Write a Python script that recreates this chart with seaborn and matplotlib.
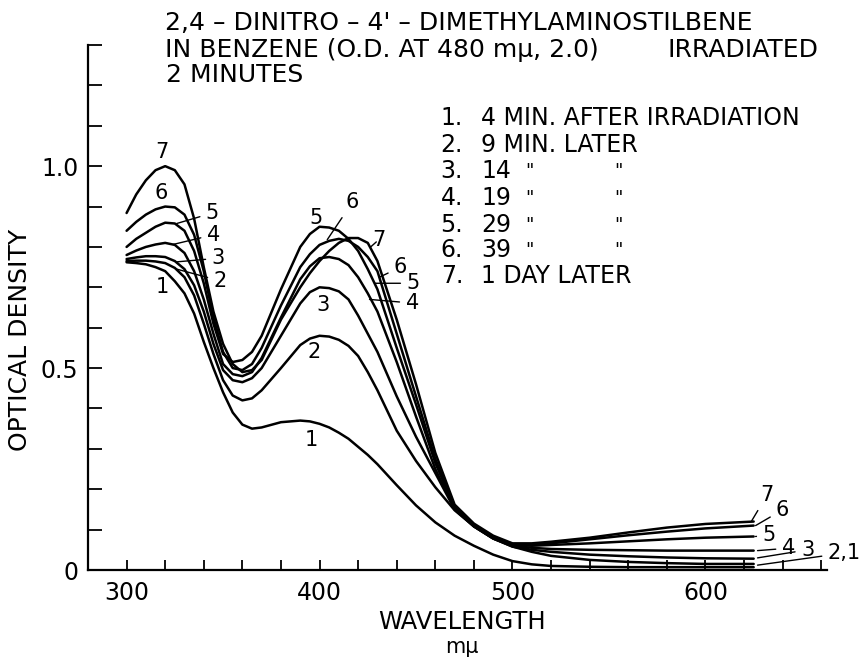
import matplotlib
matplotlib.use("Agg")
import matplotlib.pyplot as plt
import seaborn as sns
import pandas as pd
from matplotlib.ticker import FixedLocator, FixedFormatter

# ---------------- data ----------------
wavelength = [300, 305, 310, 315, 320, 325, 330, 335, 340, 345, 350, 355, 360,
              365, 370, 380, 390, 395, 400, 405, 410, 415, 420, 425, 430, 440,
              450, 460, 470, 480, 490, 500, 510, 520, 540, 560, 580, 600, 625]

curve_1 = [0.762, 0.760, 0.757, 0.750, 0.740, 0.715, 0.685, 0.635, 0.565, 0.500,
           0.440, 0.390, 0.360, 0.350, 0.353, 0.366, 0.370, 0.368, 0.362, 0.353,
           0.340, 0.325, 0.305, 0.285, 0.262, 0.210, 0.160, 0.118, 0.085, 0.060,
           0.038, 0.022, 0.014, 0.010, 0.008, 0.007, 0.007, 0.007, 0.007]
curve_2 = [0.765, 0.766, 0.766, 0.764, 0.760, 0.748, 0.725, 0.680, 0.610, 0.535,
           0.470, 0.432, 0.420, 0.425, 0.445, 0.500, 0.557, 0.573, 0.580, 0.578,
           0.570, 0.555, 0.530, 0.490, 0.445, 0.345, 0.270, 0.205, 0.148, 0.108,
           0.078, 0.058, 0.045, 0.035, 0.025, 0.020, 0.017, 0.015, 0.015]
curve_3 = [0.770, 0.774, 0.777, 0.777, 0.775, 0.765, 0.745, 0.705, 0.640, 0.560,
           0.495, 0.470, 0.465, 0.475, 0.500, 0.580, 0.660, 0.688, 0.700, 0.698,
           0.690, 0.670, 0.630, 0.585, 0.540, 0.430, 0.330, 0.240, 0.150, 0.108,
           0.078, 0.058, 0.050, 0.045, 0.038, 0.034, 0.031, 0.029, 0.028]
curve_4 = [0.780, 0.791, 0.800, 0.806, 0.810, 0.805, 0.785, 0.740, 0.670, 0.585,
           0.510, 0.485, 0.480, 0.490, 0.525, 0.625, 0.720, 0.752, 0.772, 0.775,
           0.770, 0.755, 0.725, 0.685, 0.640, 0.515, 0.380, 0.250, 0.152, 0.108,
           0.078, 0.060, 0.055, 0.052, 0.050, 0.049, 0.048, 0.048, 0.048]
curve_5 = [0.800, 0.820, 0.835, 0.850, 0.860, 0.858, 0.840, 0.790, 0.710, 0.610,
           0.535, 0.515, 0.520, 0.540, 0.580, 0.695, 0.800, 0.832, 0.850, 0.848,
           0.840, 0.820, 0.790, 0.745, 0.695, 0.550, 0.410, 0.265, 0.155, 0.110,
           0.080, 0.062, 0.060, 0.062, 0.066, 0.071, 0.076, 0.080, 0.083]
curve_6 = [0.840, 0.862, 0.880, 0.893, 0.900, 0.898, 0.880, 0.830, 0.740, 0.625,
           0.540, 0.500, 0.495, 0.510, 0.550, 0.655, 0.750, 0.782, 0.805, 0.815,
           0.820, 0.815, 0.800, 0.775, 0.740, 0.585, 0.430, 0.275, 0.158, 0.112,
           0.082, 0.064, 0.063, 0.066, 0.076, 0.086, 0.095, 0.103, 0.110]
curve_7 = [0.884, 0.930, 0.965, 0.990, 1.000, 0.990, 0.955, 0.870, 0.750, 0.640,
           0.560, 0.510, 0.490, 0.495, 0.520, 0.620, 0.700, 0.735, 0.765, 0.790,
           0.810, 0.822, 0.822, 0.810, 0.765, 0.620, 0.460, 0.290, 0.162, 0.115,
           0.085, 0.066, 0.066, 0.070, 0.080, 0.093, 0.105, 0.114, 0.120]

curve_names = ["1", "2", "3", "4", "5", "6", "7"]
curves = [curve_1, curve_2, curve_3, curve_4, curve_5, curve_6, curve_7]

x_ticks = list(range(300, 661, 20))
x_tick_labels = ["300", "", "", "", "", "400", "", "", "", "", "500", "", "", "", "",
                 "600", "", "", ""]
y_ticks = [i / 10 for i in range(0, 14)]
y_tick_labels = ["0", "", "", "", "", "0.5", "", "", "", "", "1.0", "", "", ""]

title_line_1 = "2,4 – DINITRO – 4' – DIMETHYLAMINOSTILBENE"
title_line_2a = "IN BENZENE (O.D. AT 480 mμ, 2.0)"
title_line_2b = "IRRADIATED"
title_line_3 = "2 MINUTES"
legend_numbers = ["1.", "2.", "3.", "4.", "5.", "6.", "7."]
legend_texts = ["4 MIN. AFTER IRRADIATION", "9 MIN. LATER", "14", "19", "29", "39",
                "1 DAY LATER"]
legend_ditto = [False, False, True, True, True, True, False]

rows = []
for name, vals in zip(curve_names, curves):
    for w, v in zip(wavelength, vals):
        rows.append({"wavelength": w, "od": v, "curve": name})
df = pd.DataFrame(rows)

# ---------------- figure ----------------
sns.set_theme(style="ticks")
plt.rcParams["font.family"] = ["DejaVu Sans"]
plt.rcParams["text.color"] = "black"
plt.rcParams["axes.labelcolor"] = "black"
plt.rcParams["xtick.color"] = "black"
plt.rcParams["ytick.color"] = "black"

W, H = 863, 659
fig = plt.figure(figsize=(W / 100, H / 100), dpi=100)
ax = fig.add_axes([88 / W, (H - 570) / H, 739 / W, 525 / H])

sns.lineplot(data=df, x="wavelength", y="od", hue="curve",
             palette=["black"] * 7, legend=False, ax=ax,
             linewidth=1.8, estimator=None, sort=False)

ax.set_xlim(280, 663)
ax.set_ylim(0, 1.3)
ax.set_xlabel("")
ax.set_ylabel("")
for s in ["top", "right"]:
    ax.spines[s].set_visible(False)
for s in ["left", "bottom"]:
    ax.spines[s].set_linewidth(1.6)
    ax.spines[s].set_color("black")

ax.xaxis.set_major_locator(FixedLocator(x_ticks))
ax.xaxis.set_major_formatter(FixedFormatter(x_tick_labels))
ax.yaxis.set_major_locator(FixedLocator(y_ticks))
ax.yaxis.set_major_formatter(FixedFormatter(y_tick_labels))
ax.tick_params(axis="x", direction="in", length=7, width=1.3, labelsize=17,
               pad=8, colors="black")
ax.tick_params(axis="y", direction="in", length=10, width=1.3, labelsize=17,
               pad=7, colors="black")

def px(x, y):
    return x / W, 1 - y / H

# titles
fs = 18
fig.text(*px(165, 23), title_line_1, fontsize=fs, ha="left", va="center")
fig.text(*px(165, 50), title_line_2a, fontsize=fs, ha="left", va="center")
fig.text(*px(667, 50), title_line_2b, fontsize=fs, ha="left", va="center")
fig.text(*px(166, 75), title_line_3, fontsize=fs, ha="left", va="center")

# legend block
leg_y = [118, 145, 171, 198, 225, 250, 276]
for num, txt, dit, yy in zip(legend_numbers, legend_texts, legend_ditto, leg_y):
    fig.text(*px(463, yy), num, fontsize=17, ha="right", va="center")
    fig.text(*px(481, yy), txt, fontsize=17, ha="left", va="center")
    if dit:
        fig.text(*px(529, yy), '"', fontsize=13, ha="center", va="center")
        fig.text(*px(618, yy), '"', fontsize=13, ha="center", va="center")

# axis labels
fig.text(*px(20, 340), "OPTICAL DENSITY", fontsize=18, rotation=90,
         ha="center", va="center")
fig.text(*px(462, 622), "WAVELENGTH", fontsize=17.5, ha="center", va="center")
fig.text(*px(462, 647), "mμ", fontsize=15, ha="center", va="center")

# curve labels: (text, label position, leader target or None)
curve_labels = [
    ("7", (318.1, 1.035), None),
    ("6", (318.1, 0.933), None),
    ("5", (344.5, 0.884), (326.0, 0.858)),
    ("4", (345.0, 0.830), (324.0, 0.806)),
    ("3", (347.5, 0.772), (326.0, 0.763)),
    ("2", (348.5, 0.716), (326.0, 0.745)),
    ("1", (318.7, 0.700), None),
    ("5", (398.4, 0.871), None),
    ("6", (417.1, 0.911), (404.0, 0.818)),
    ("7", (430.5, 0.817), (426.5, 0.800)),
    ("3", (401.6, 0.656), None),
    ("2", (397.4, 0.540), None),
    ("1", (395.9, 0.322), None),
    ("6", (442.0, 0.750), (431.0, 0.725)),
    ("5", (448.5, 0.710), (428.5, 0.710)),
    ("4", (448.0, 0.661), (425.9, 0.670)),
    ("7", (632.0, 0.186), (624.0, 0.122)),
    ("6", (640.0, 0.149), (626.0, 0.110)),
    ("5", (633.0, 0.087), (626.0, 0.083)),
    ("4", (643.0, 0.054), (627.0, 0.048)),
    ("3", (653.0, 0.050), (627.0, 0.030)),
    ("2,1", (672.0, 0.042), (627.0, 0.012)),
]
for txt, pos, tgt in curve_labels:
    if tgt is None:
        ax.text(pos[0], pos[1], txt, fontsize=15, ha="center", va="center")
    else:
        ax.annotate(txt, xy=tgt, xytext=pos, fontsize=15, ha="center",
                    va="center", annotation_clip=False,
                    arrowprops=dict(arrowstyle="-", lw=1.0, color="black",
                                    shrinkA=2, shrinkB=0))

fig.savefig("out.png", dpi=100)
